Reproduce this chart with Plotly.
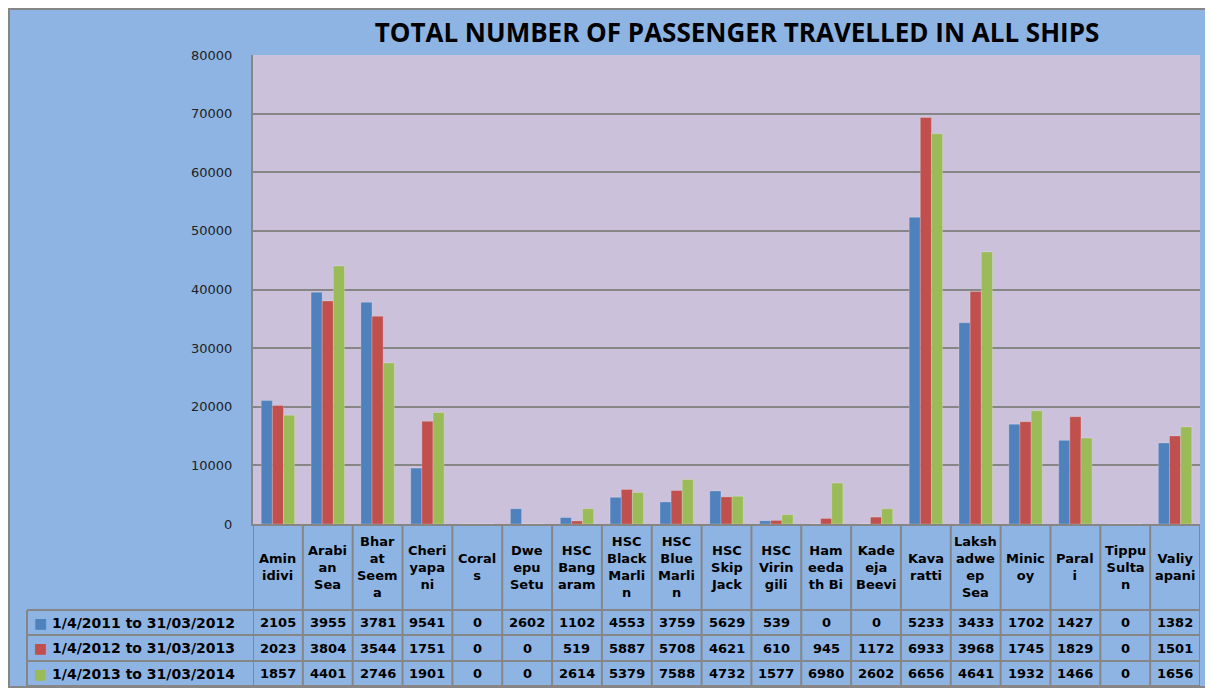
import plotly.graph_objects as go

# ---------------- data ----------------
categories = ["Amindivi", "Arabian Sea", "Bharat Seema", "Cheriyapani", "Corals",
              "Dweepu Setu", "HSC Bangaram", "HSC Black Marlin", "HSC Blue Marlin",
              "HSC Skip Jack", "HSC Viringili", "Hameedath Bi", "Kadeeja Beevi",
              "Kavaratti", "Lakshadweep Sea", "Minicoy", "Parali", "Tippu Sultan",
              "Valiyapani"]
header_labels = ["Amin<br>idivi", "Arabi<br>an<br>Sea", "Bhar<br>at<br>Seem<br>a",
                 "Cheri<br>yapa<br>ni", "Coral<br>s", "Dwe<br>epu<br>Setu",
                 "HSC<br>Bang<br>aram", "HSC<br>Black<br>Marli<br>n",
                 "HSC<br>Blue<br>Marli<br>n", "HSC<br>Skip<br>Jack",
                 "HSC<br>Virin<br>gili", "Ham<br>eeda<br>th Bi", "Kade<br>eja<br>Beevi",
                 "Kava<br>ratti", "Laksh<br>adwe<br>ep<br>Sea", "Minic<br>oy",
                 "Paral<br>i", "Tippu<br>Sulta<br>n", "Valiy<br>apani"]
series_names = ["1/4/2011 to 31/03/2012", "1/4/2012 to 31/03/2013",
                "1/4/2013 to 31/03/2014"]
s2011 = [21050, 39550, 37810, 9541, 0, 2602, 1102, 4553, 3759, 5629, 539, 0, 0,
         52330, 34330, 17020, 14270, 0, 13820]
s2012 = [20230, 38040, 35440, 17510, 0, 0, 519, 5887, 5708, 4621, 610, 945, 1172,
         69330, 39680, 17450, 18290, 0, 15010]
s2013 = [18570, 44010, 27460, 19010, 0, 0, 2614, 5379, 7588, 4732, 1577, 6980, 2602,
         66560, 46410, 19320, 14660, 0, 16560]
series_values = [s2011, s2012, s2013]
series_colors = ["#4F81BD", "#C0504D", "#9BBB59"]
title_text = "TOTAL NUMBER OF PASSENGER TRAVELLED IN ALL SHIPS"

# ---------------- layout geometry (page pixels; figure sits 8px in) ----------------
OFF = 8
W, H = 1213 - OFF, 688 - OFF
L, R, T, B = 253, 1200, 55, 524   # plot area in page pixels


def px(x):
    return (x - L) / (R - L)


def py(y):
    return (B - y) / (B - T)


GRID = "#868686"
BG = "#8EB4E3"
PLOT_BG = "#CCC1DA"

fig = go.Figure()
for name, vals, col in zip(series_names, series_values, series_colors):
    fig.add_trace(go.Bar(x=categories, y=vals, name=name, marker_color=col,
                         marker_line=dict(width=0.6, color="rgba(255,255,255,0.35)")))

shapes = []
annotations = []

# grey frame around the whole chart (page coords)
for (x0, y0, x1, y1) in [(OFF, OFF + 1, 1213, OFF + 1), (OFF + 1, OFF, OFF + 1, 688),
                         (OFF, 687, 1213, 687)]:
    shapes.append(dict(type="line", xref="paper", yref="paper", x0=px(x0), x1=px(x1),
                       y0=py(y0), y1=py(y1), line=dict(color=GRID, width=2)))

# table grid
row_lines = [610, 635, 661, 686]
for k in range(len(categories) + 1):
    shapes.append(dict(type="line", xref="x", yref="paper", x0=k - 0.5, x1=k - 0.5,
                       y0=py(B), y1=py(686), line=dict(color=GRID, width=2)))
for yl in row_lines:
    shapes.append(dict(type="line", xref="paper", yref="paper", x0=px(27), x1=px(R),
                       y0=py(yl), y1=py(yl), line=dict(color=GRID, width=2)))
shapes.append(dict(type="line", xref="paper", yref="paper", x0=px(27), x1=px(27),
                   y0=py(610), y1=py(686), line=dict(color=GRID, width=2)))

# header labels
for cat, lab in zip(categories, header_labels):
    annotations.append(dict(x=cat, xref="x", y=py(567), yref="paper", text=lab,
                            showarrow=False, xanchor="center", yanchor="middle",
                            align="center",
                            font=dict(family="DejaVu Sans", size=13, color="black",
                                      weight="bold")))

# value rows and legend column
row_centers = [622.5, 648, 673.5]
for rc, name, vals, col in zip(row_centers, series_names, series_values, series_colors):
    for cat, v in zip(categories, vals):
        annotations.append(dict(x=cat, xref="x", y=py(rc), yref="paper",
                                text=str(v)[:4], showarrow=False,
                                xanchor="center", yanchor="middle",
                                font=dict(family="DejaVu Sans", size=13,
                                          color="black", weight="bold")))
    annotations.append(dict(x=px(32), xref="paper", y=py(rc), yref="paper",
                            text=f'<span style="color:{col}">■</span> {name}',
                            showarrow=False, xanchor="left", yanchor="middle",
                            font=dict(family="DejaVu Sans", size=14, color="black",
                                      weight="bold")))

fig.update_layout(
    width=W, height=H,
    margin=dict(l=L - OFF, r=W - (R - OFF), t=T - OFF, b=H - (B - OFF), pad=0),
    paper_bgcolor=BG, plot_bgcolor=PLOT_BG,
    showlegend=False,
    barmode="group", bargap=0.33, bargroupgap=0,
    title=dict(text=title_text, x=px(737), xref="paper", xanchor="center",
               y=1 - (33 - OFF) / H, yref="container", yanchor="middle",
               font=dict(family="Open Sans", size=26, color="black", weight="bold")),
    xaxis=dict(type="category", range=[-0.5, len(categories) - 0.5],
               showticklabels=False, showgrid=False, showline=True,
               linecolor=GRID, linewidth=2, ticks=""),
    yaxis=dict(range=[0, 80000], dtick=10000, tickformat="d", showgrid=True,
               gridcolor=GRID, gridwidth=2, showline=True, linecolor=GRID,
               linewidth=2, zeroline=False, ticks="", ticklabelstandoff=16,
               tickfont=dict(family="DejaVu Sans", size=13, color="#222222")),
    shapes=shapes, annotations=annotations,
)

fig.write_html("out.html")
